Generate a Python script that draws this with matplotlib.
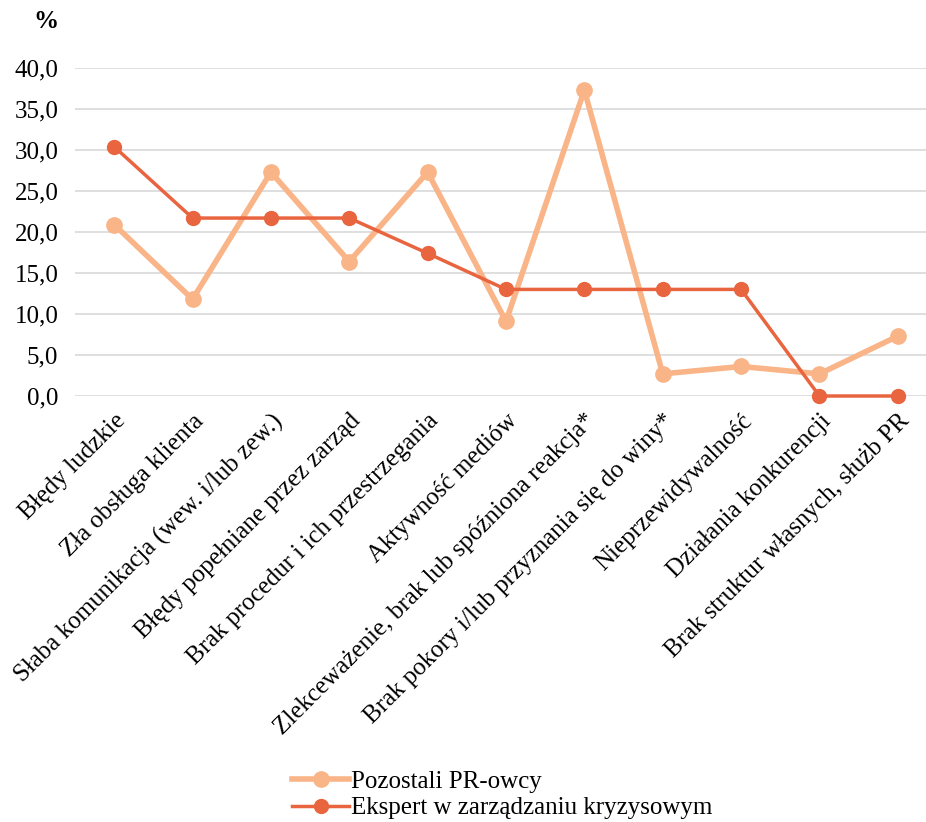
import matplotlib.pyplot as plt
from matplotlib.ticker import FuncFormatter

plt.rcParams['font.family'] = ['Liberation Serif', 'DejaVu Serif']

categories = ['Błędy ludzkie', 'Zła obsługa klienta',
              'Słaba komunikacja (wew. i/lub zew.)',
              'Błędy popełniane przez zarząd',
              'Brak procedur i ich przestrzegania', 'Aktywność mediów',
              'Zlekceważenie, brak lub spóźniona reakcja*',
              'Brak pokory i/lub przyznania się do winy*',
              'Nieprzewidywalność', 'Działania konkurencji',
              'Brak struktur własnych, służb PR']
pozostali = [20.9, 11.8, 27.3, 16.4, 27.3, 9.1, 37.3, 2.7, 3.6, 2.7, 7.3]
ekspert = [30.4, 21.7, 21.7, 21.7, 17.4, 13.0, 13.0, 13.0, 13.0, 0.0, 0.0]

fs = 18

fig = plt.figure(figsize=(9.26, 8.22), dpi=100)
ax = fig.add_axes([75 / 926, 1 - 396 / 822, 862 / 926, 328 / 822])

x = list(range(len(categories)))
ax.plot(x, pozostali, color='#F9B487', lw=4, marker='o', ms=11,
        label='Pozostali PR-owcy', zorder=3, clip_on=False)
ax.plot(x, ekspert, color='#E8653F', lw=2.5, marker='o', ms=10,
        label='Ekspert w zarządzaniu kryzysowym', zorder=4, clip_on=False)

ax.set_xlim(-0.5, len(categories) - 0.5)
ax.set_ylim(0, 40)
ax.set_yticks(range(0, 41, 5))
ax.yaxis.set_major_formatter(FuncFormatter(lambda v, p: f'{v:.1f}'.replace('.', ',')))
ax.grid(axis='y', color='#D9D9D9', lw=1.2)
ax.set_axisbelow(True)
for s in ax.spines.values():
    s.set_visible(False)
ax.tick_params(length=0, labelsize=fs, pad=12)
ax.tick_params(axis='x', pad=10)
ax.set_xticks(x)
ax.set_xticklabels(categories, rotation=45, ha='right', rotation_mode='anchor')

fig.text(46 / 926, 1 - 22 / 822, '%', fontsize=fs, fontweight='bold',
         ha='center', va='center')

fig.legend(loc='center', bbox_to_anchor=(502 / 926, 1 - 795 / 822),
           frameon=False, fontsize=fs, ncol=1, handlelength=2.3,
           handletextpad=0.05, labelspacing=0.15)

fig.savefig('out.png', dpi=100)
